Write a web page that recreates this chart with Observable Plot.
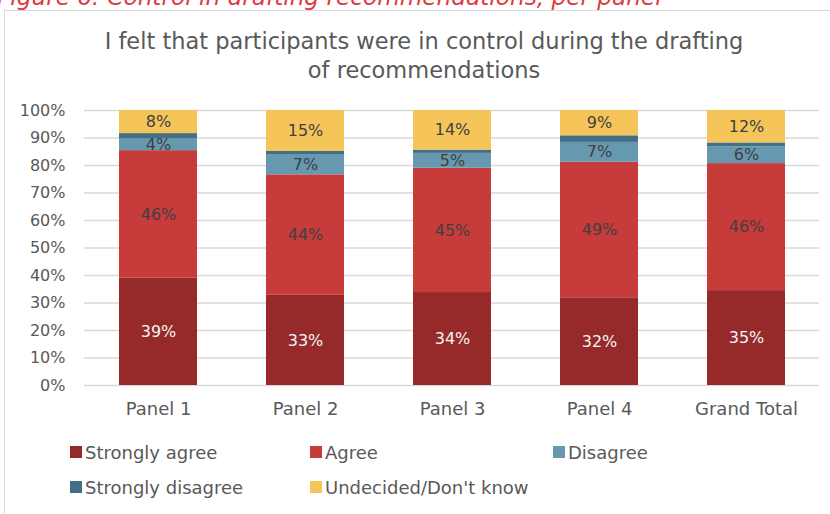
<!DOCTYPE html>
<html>
<head>
<meta charset="utf-8">
<script src="https://cdn.jsdelivr.net/npm/d3@7"></script>
<script src="https://cdn.jsdelivr.net/npm/@observablehq/plot@0.6"></script>
<style>
  html, body { margin: 0; padding: 0; background: #fff; }
  #wrap { position: relative; width: 830px; height: 514px; overflow: hidden; font-family: "DejaVu Sans", sans-serif; }
  #caption { position: absolute; left: -3px; top: -17px; font-size: 23.2px; font-style: italic; color: #e0393e; white-space: nowrap; }
  #box { position: absolute; left: 4px; top: 10px; width: 850px; height: 520px; border: 1px solid #d9d9d9; box-sizing: border-box; }
  #title { position: absolute; left: 0; width: 848px; top: 27px; text-align: center; font-size: 22.5px; line-height: 29px; color: #595959; }
  #chart { position: absolute; left: 0; top: 95px; }
  .leg { position: absolute; font-size: 18px; color: #595959; white-space: nowrap; line-height: 22px; }
  .leg span.sw { display: inline-block; width: 12px; height: 12px; margin-right: 3px; vertical-align: 1px; }
</style>
</head>
<body>
<div id="wrap">
  <div id="caption">Figure 6: Control in drafting recommendations, per panel</div>
  <div id="box"></div>
  <div id="title">I felt that participants were in control during the drafting<br>of recommendations</div>
  <div id="chart"></div>
  <div id="legend"></div>
</div>
<script>
const panels = ["Panel 1", "Panel 2", "Panel 3", "Panel 4", "Grand Total"];
const categories = ["Strongly agree", "Agree", "Disagree", "Strongly disagree", "Undecided/Don't know"];
const colors = ["#962a2b", "#c73b3a", "#6699b0", "#426e86", "#f6c55a"];
const stronglyAgree = [39.0, 32.8, 33.8, 31.9, 34.5];
const agree = [46.4, 43.8, 45.2, 49.3, 46.2];
const disagree = [4.2, 7.4, 5.4, 7.2, 6.1];
const stronglyDisagree = [2.0, 1.1, 1.2, 2.4, 1.4];
const undecided = [8.4, 14.9, 14.4, 9.2, 11.8];
const yTicks = [0, 10, 20, 30, 40, 50, 60, 70, 80, 90, 100];

const series = [stronglyAgree, agree, disagree, stronglyDisagree, undecided];
const data = [];
panels.forEach((p, i) => {
  categories.forEach((c, j) => {
    data.push({panel: p, cat: c, value: series[j][i]});
  });
});
const lbl = d => Math.round(d.value) + "%";

const chart = Plot.plot({
  width: 830,
  height: 330,
  marginLeft: 84,
  marginRight: 11,
  marginTop: 15,
  marginBottom: 40,
  style: {fontFamily: "DejaVu Sans, sans-serif", fontSize: "16px", color: "#595959", background: "transparent"},
  x: {domain: panels, paddingInner: 0.47, paddingOuter: 0.235, label: null},
  y: {domain: [0, 100], label: null},
  color: {domain: categories, range: colors},
  marks: [
    Plot.ruleY(yTicks, {stroke: "#d9d9d9", strokeWidth: 1.3}),
    Plot.barY(data, Plot.stackY({x: "panel", y: "value", z: "cat", fill: "cat", order: categories})),
    Plot.text(data, Plot.stackY({x: "panel", y: "value", z: "cat", order: categories,
      text: d => d.cat === "Strongly agree" ? lbl(d) : "", fill: "#f4f4f4", fontSize: 16})),
    Plot.text(data, Plot.stackY({x: "panel", y: "value", z: "cat", order: categories,
      text: d => (d.cat === "Strongly agree" || d.cat === "Strongly disagree") ? "" : lbl(d), fill: "#404040", fontSize: 16})),
    Plot.axisY(yTicks, {tickSize: 0, tickPadding: 19, tickFormat: d => d + "%", fontSize: 16, fill: "#595959"}),
    Plot.axisX({tickSize: 0, tickPadding: 17, fontSize: 18, fill: "#595959"})
  ]
});
document.getElementById("chart").appendChild(chart);

const legendPos = [[70, 442], [310, 442], [553, 442], [70, 477], [310, 477]];
const legend = document.getElementById("legend");
categories.forEach((c, i) => {
  const el = document.createElement("div");
  el.className = "leg";
  el.style.left = legendPos[i][0] + "px";
  el.style.top = legendPos[i][1] + "px";
  const sw = document.createElement("span");
  sw.className = "sw";
  sw.style.background = colors[i];
  el.appendChild(sw);
  el.appendChild(document.createTextNode(c));
  legend.appendChild(el);
});
</script>
</body>
</html>
